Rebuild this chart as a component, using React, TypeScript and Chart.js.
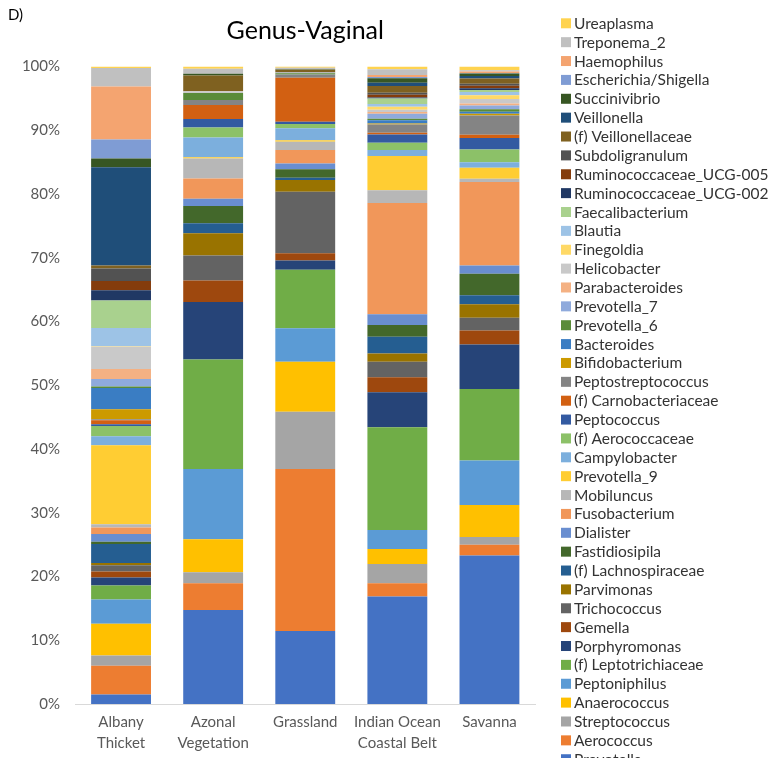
import { useEffect, useRef } from "react";
import { Chart, registerables } from "chart.js";

Chart.register(...registerables);

// Categories (x axis), multi-line labels
const categories: string[][] = [
  ["Albany", "Thicket"],
  ["Azonal", "Vegetation"],
  ["Grassland"],
  ["Indian Ocean", "Coastal Belt"],
  ["Savanna"],
];

// Genera in stacking order (bottom -> top)
const genera: string[] = [
  "Prevotella", "Aerococcus", "Streptococcus", "Anaerococcus", "Peptoniphilus",
  "(f) Leptotrichiaceae", "Porphyromonas", "Gemella", "Trichococcus", "Parvimonas",
  "(f) Lachnospiraceae", "Fastidiosipila", "Dialister", "Fusobacterium", "Mobiluncus",
  "Prevotella_9", "Campylobacter", "(f) Aerococcaceae", "Peptococcus", "(f) Carnobacteriaceae",
  "Peptostreptococcus", "Bifidobacterium", "Bacteroides", "Prevotella_6", "Prevotella_7",
  "Parabacteroides", "Helicobacter", "Finegoldia", "Blautia", "Faecalibacterium",
  "Ruminococcaceae_UCG-002", "Ruminococcaceae_UCG-005", "Subdoligranulum", "(f) Veillonellaceae", "Veillonella",
  "Succinivibrio", "Escherichia/Shigella", "Haemophilus", "Treponema_2", "Ureaplasma",
];

const colors: string[] = [
  "#4472C4", "#ED7D31", "#A5A5A5", "#FFC000", "#5B9BD5",
  "#70AD47", "#264478", "#9E480E", "#636363", "#997300",
  "#255E91", "#43682B", "#698ED0", "#F1975A", "#B7B7B7",
  "#FFCD33", "#7CAFDD", "#8CC168", "#335AA1", "#D26012",
  "#848484", "#CC9A00", "#3A7DC3", "#5A8B39", "#8FAADC",
  "#F4B183", "#C9C9C9", "#FFD966", "#9DC3E6", "#A9D18E",
  "#203864", "#843C0C", "#525252", "#7F6120", "#1F4E79",
  "#375623", "#7F9CD4", "#F4A470", "#C0C0C0", "#FFD34F",
];

// Relative abundance (%) per site, same order as `genera`
const albanyThicket: number[] = [
  1.5, 4.5, 1.6, 5.0, 3.8, 2.2, 1.25, 0.95, 0.95, 0.35,
  3.0, 0.35, 1.2, 1.05, 0.5, 12.4, 1.4, 1.6, 0.3, 0.6,
  0.15, 1.6, 3.3, 0.25, 1.2, 1.55, 3.5, 0.05, 2.9, 4.3,
  1.6, 1.45, 1.95, 0.5, 15.4, 1.35, 3.0, 8.3, 2.9, 0.25,
];
const azonalVegetation: number[] = [
  14.75, 4.2, 1.7, 5.2, 11.0, 17.2, 9.0, 3.4, 3.9, 3.5,
  1.55, 2.7, 1.15, 3.2, 3.1, 0.2, 3.1, 1.6, 1.3, 2.2,
  0.8, 0, 0, 1.1, 0, 0, 0.25, 0, 0, 0,
  0, 0, 0, 2.5, 0, 0.25, 0, 0, 0.8, 0.35,
];
const grassland: number[] = [
  11.45, 25.4, 9.0, 7.85, 5.25, 9.15, 1.45, 1.15, 9.65, 1.85,
  0.35, 1.35, 0.9, 2.1, 1.3, 0.25, 1.85, 0.7, 0.35, 6.9,
  0.5, 0, 0, 0.2, 0, 0, 0.1, 0, 0, 0,
  0, 0, 0.1, 0.35, 0, 0.05, 0, 0, 0.25, 0.2,
];
const indianOceanCoastalBelt: number[] = [
  16.85, 2.1, 3.0, 2.35, 3.0, 16.1, 5.5, 2.35, 2.45, 1.3,
  2.6, 1.85, 1.7, 17.45, 2.0, 5.35, 0.95, 1.15, 1.3, 0.25,
  1.3, 0.15, 0.5, 0.25, 0.8, 0.25, 0.35, 0.5, 0.4, 0.9,
  0.15, 0.4, 0.35, 1.05, 0.5, 0.7, 0.2, 0.3, 0.9, 0.45,
];
const savanna: number[] = [
  23.3, 1.7, 1.2, 5.0, 7.0, 11.2, 7.0, 2.2, 2.0, 2.1,
  1.4, 3.4, 1.3, 13.1, 0.5, 1.7, 0.9, 2.0, 1.8, 0.5,
  3.0, 0.3, 0.3, 0.4, 0.6, 0.3, 0.7, 0.6, 0.5, 0.3,
  0.3, 0.4, 0.3, 0.8, 0.4, 0.4, 0.1, 0.2, 0.2, 0.6,
];

const yTicks: number[] = [0, 10, 20, 30, 40, 50, 60, 70, 80, 90, 100];

const FONT = "Lato, 'Open Sans', sans-serif";
const W = 779;
const H = 758;
const LEGEND_X = 561;
const LEGEND_TOP = 23.3;
const LEGEND_STEP = 18.87;
const LEGEND_FONT = 15.5;

const sideLegend = {
  id: "sideLegend",
  afterDraw(chart: any) {
    const ctx: CanvasRenderingContext2D = chart.ctx;
    ctx.save();
    ctx.textBaseline = "middle";
    ctx.textAlign = "left";
    ctx.font = `${LEGEND_FONT}px ${FONT}`;
    const n = genera.length;
    for (let k = 0; k < n; k++) {
      const i = n - 1 - k;
      const y = LEGEND_TOP + k * LEGEND_STEP;
      ctx.fillStyle = colors[i];
      ctx.fillRect(LEGEND_X, y - 5, 10, 10);
      ctx.fillStyle = "#333333";
      ctx.fillText(genera[i], LEGEND_X + 13, y + 0.5);
    }
    ctx.font = `15px ${FONT}`;
    ctx.fillStyle = "#000000";
    ctx.fillText("D)", 8, 15);
    ctx.restore();
  },
};

export default function App() {
  const ref = useRef<HTMLCanvasElement | null>(null);

  useEffect(() => {
    if (!ref.current) return;
    const sites = [albanyThicket, azonalVegetation, grassland, indianOceanCoastalBelt, savanna];
    const datasets = genera.map((g, i) => ({
      label: g,
      data: sites.map((s) => s[i]),
      backgroundColor: colors[i],
      borderWidth: 0,
      barPercentage: 0.65,
      categoryPercentage: 1.0,
    }));
    const chart = new Chart(ref.current, {
      type: "bar",
      data: { labels: categories, datasets },
      plugins: [sideLegend],
      options: {
        responsive: false,
        animation: false,
        layout: { padding: { top: 12, right: W - 535.5, bottom: 0, left: 0 } },
        plugins: {
          legend: { display: false },
          tooltip: { enabled: false },
          title: {
            display: true,
            text: "Genus-Vaginal",
            fullSize: false,
            color: "#000000",
            font: { family: FONT, size: 25, weight: "normal", lineHeight: 1.2 },
            padding: { top: 4, bottom: 20.5 },
          },
        },
        scales: {
          x: {
            stacked: true,
            grid: { display: false, drawTicks: false },
            border: { display: true, color: "#D9D9D9", width: 1 },
            ticks: {
              color: "#595959",
              font: { family: FONT, size: 15, lineHeight: 1.45 },
              padding: 7,
              maxRotation: 0,
              autoSkip: false,
            },
            afterFit: (s: any) => {
              s.height = 54;
            },
          },
          y: {
            stacked: true,
            min: 0,
            max: 100,
            afterBuildTicks: (s: any) => {
              s.ticks = yTicks.map((v) => ({ value: v }));
            },
            grid: { display: false, drawTicks: false },
            border: { display: false },
            ticks: {
              color: "#595959",
              font: { family: FONT, size: 15 },
              padding: 15,
              callback: (v: any) => `${v}%`,
            },
            afterFit: (s: any) => {
              s.width = 75;
            },
          },
        },
      },
    });
    return () => chart.destroy();
  }, []);

  return (
    <div style={{ position: "fixed", left: 0, top: 0, width: W, height: H, background: "#ffffff" }}>
      <canvas ref={ref} width={W} height={H} style={{ width: W, height: H, display: "block" }} />
    </div>
  );
}
